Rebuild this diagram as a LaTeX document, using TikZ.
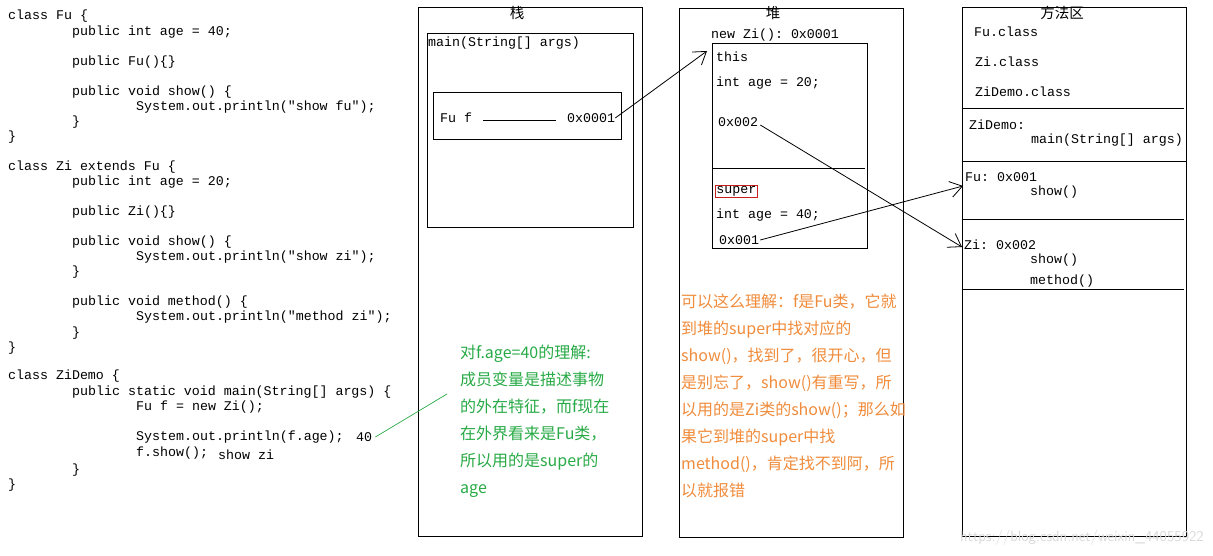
\documentclass[tikz,border=0pt]{standalone}
\usepackage{fontspec}
\setmonofont{Liberation Mono}
\newfontfamily\cjk{Noto Sans CJK SC}
\usetikzlibrary{arrows.meta}
\definecolor{notegreen}{RGB}{40,170,70}
\definecolor{noteorange}{RGB}{240,140,60}
\definecolor{boxred}{RGB}{200,30,30}
\begin{document}
\begin{tikzpicture}[x=1pt,y=-1pt,
  code/.style={anchor=west,inner sep=0pt,font=\ttfamily\fontsize{13.3}{15}\selectfont},
  area/.style={draw,line width=1pt},
  title/.style={inner sep=0pt,font=\cjk\fontsize{14.5}{16}\selectfont},
  gnote/.style={anchor=west,inner sep=0pt,text=notegreen,font=\cjk\fontsize{16}{27}\selectfont,align=left},
  onote/.style={anchor=west,inner sep=0pt,text=noteorange,font=\cjk\fontsize{16}{27}\selectfont,align=left},
  ptr/.style={line width=0.8pt,-{Straight Barb[length=12pt,width=16pt]}},
  divider/.style={line width=1pt}]
\useasboundingbox (0,0) rectangle (1213,556);
\fill[white] (0,0) rectangle (1213,556);

% ---- source code ----
\node[code] (c1)  at (8,16)   {class Fu \{};
\node[code] (c2)  at (72,32)  {public int age = 40;};
\node[code] (c3)  at (72,62)  {public Fu()\{\}};
\node[code] (c4)  at (72,92)  {public void show() \{};
\node[code] (c5)  at (136,107){System.out.println("show fu");};
\node[code] (c6)  at (72,122) {\}};
\node[code] (c7)  at (8,137)  {\}};
\node[code] (c8)  at (8,167)  {class Zi extends Fu \{};
\node[code] (c9)  at (72,182) {public int age = 20;};
\node[code] (c10) at (72,212) {public Zi()\{\}};
\node[code] (c11) at (72,242) {public void show() \{};
\node[code] (c12) at (136,257){System.out.println("show zi");};
\node[code] (c13) at (72,272) {\}};
\node[code] (c14) at (72,302) {public void method() \{};
\node[code] (c15) at (136,317){System.out.println("method zi");};
\node[code] (c16) at (72,333) {\}};
\node[code] (c17) at (8,348)  {\}};
\node[code] (c18) at (8,376)  {class ZiDemo \{};
\node[code] (c19) at (72,392) {public static void main(String[] args) \{};
\node[code] (c20) at (136,407){Fu f = new Zi();};
\node[code] (c21) at (136,437){System.out.println(f.age);};
\node[code] (r40) at (356,437){40};
\node[code] (c22) at (136,453){f.show();};
\node[code] (rsz) at (218,455){show zi};
\node[code] (c23) at (72,470) {\}};
\node[code] (c24) at (8,485)  {\}};

% ---- stack ----
\draw[area] (418,8) rectangle (642,536);
\node[title] (stackt) at (517,13) {栈};
\draw[area] (427,34) rectangle (633,228);
\node[code] (mainsig) at (428,43) {main(String[] args)};
\draw[area] (433,93) rectangle (621,140);
\node[code] (fuf) at (440,118) {Fu f};
\node[code] (fuaddr) at (567,118) {0x0001};
\draw[line width=1pt] (483,121) -- (556,121);

% ---- heap ----
\draw[area] (679,9) rectangle (903,537);
\node[title] (heapt) at (773,13) {堆};
\node[code] (newzi) at (711,35) {new Zi(): 0x0001};
\draw[area] (712,44) rectangle (867,249);
\draw[divider] (712,169) -- (865,169);
\node[code] (hthis) at (716,57) {this};
\node[code] (hage20) at (716,83) {int age = 20;};
\node[code] (zaddr) at (718,122) {0x002};
\node[code,draw=boxred,line width=0.8pt,inner sep=1pt] (hsuper) at (715,191.5) {super};
\node[code] (hage40) at (716,215) {int age = 40;};
\node[code] (faddr) at (719,240) {0x001};

% ---- method area ----
\draw[area] (962,8) rectangle (1186,536);
\node[title] (mtitle) at (1062,13) {方法区};
\node[code] (fucls) at (974,32) {Fu.class};
\node[code] (zicls) at (975,62) {Zi.class};
\node[code] (zdcls) at (975,92) {ZiDemo.class};
\draw[divider] (962,109) -- (1184,109);
\node[code] (zdlbl) at (969,125) {ZiDemo:};
\node[code] (zdmain) at (1031,140) {main(String[] args)};
\draw[divider] (962,162) -- (1187,162);
\node[code] (fulbl) at (965,177) {Fu: 0x001};
\node[code] (fushow) at (1030,192) {show()};
\draw[divider] (962,220) -- (1184,220);
\node[code] (zilbl) at (964,245) {Zi: 0x002};
\node[code] (zishow) at (1030,260) {show()};
\node[code] (zimeth) at (1030,281) {method()};
\draw[divider] (962,289) -- (1184,289);

% ---- pointers ----
\coordinate (objtip) at (707,51);
\coordinate (futip) at (963,186);
\coordinate (zitip) at (962,247);
\draw[ptr] (fuaddr.east) -- (objtip);
\draw[ptr] (zaddr.east) ++(2,3) -- (zitip);
\draw[ptr] (faddr.east) ++(1,0) -- (futip);

% ---- notes ----
\coordinate (gend) at (447,394);
\draw[notegreen,line width=0.7pt] (r40.east) ++(3,0) -- (gend);
\node[gnote] (gtext) at (460,421.5) {对f.age=40的理解:\\成员变量是描述事物\\的外在特征，而f现在\\在外界看来是Fu类，\\所以用的是super的\\age};
\node[onote] (otext) at (681,395.5) {可以这么理解：f是Fu类，它就\\到堆的super中找对应的\\show()，找到了，很开心，但\\是别忘了，show()有重写，所\\以用的是Zi类的show()；那么如\\果它到堆的super中找\\method()，肯定找不到阿，所\\以就报错};

\node[anchor=east,inner sep=0pt,text=black!15,font=\sffamily\fontsize{15}{15}\selectfont] (wm) at (1204,538) {https://blog.csdn.net/weixin\_44055922};
\end{tikzpicture}
\end{document}
